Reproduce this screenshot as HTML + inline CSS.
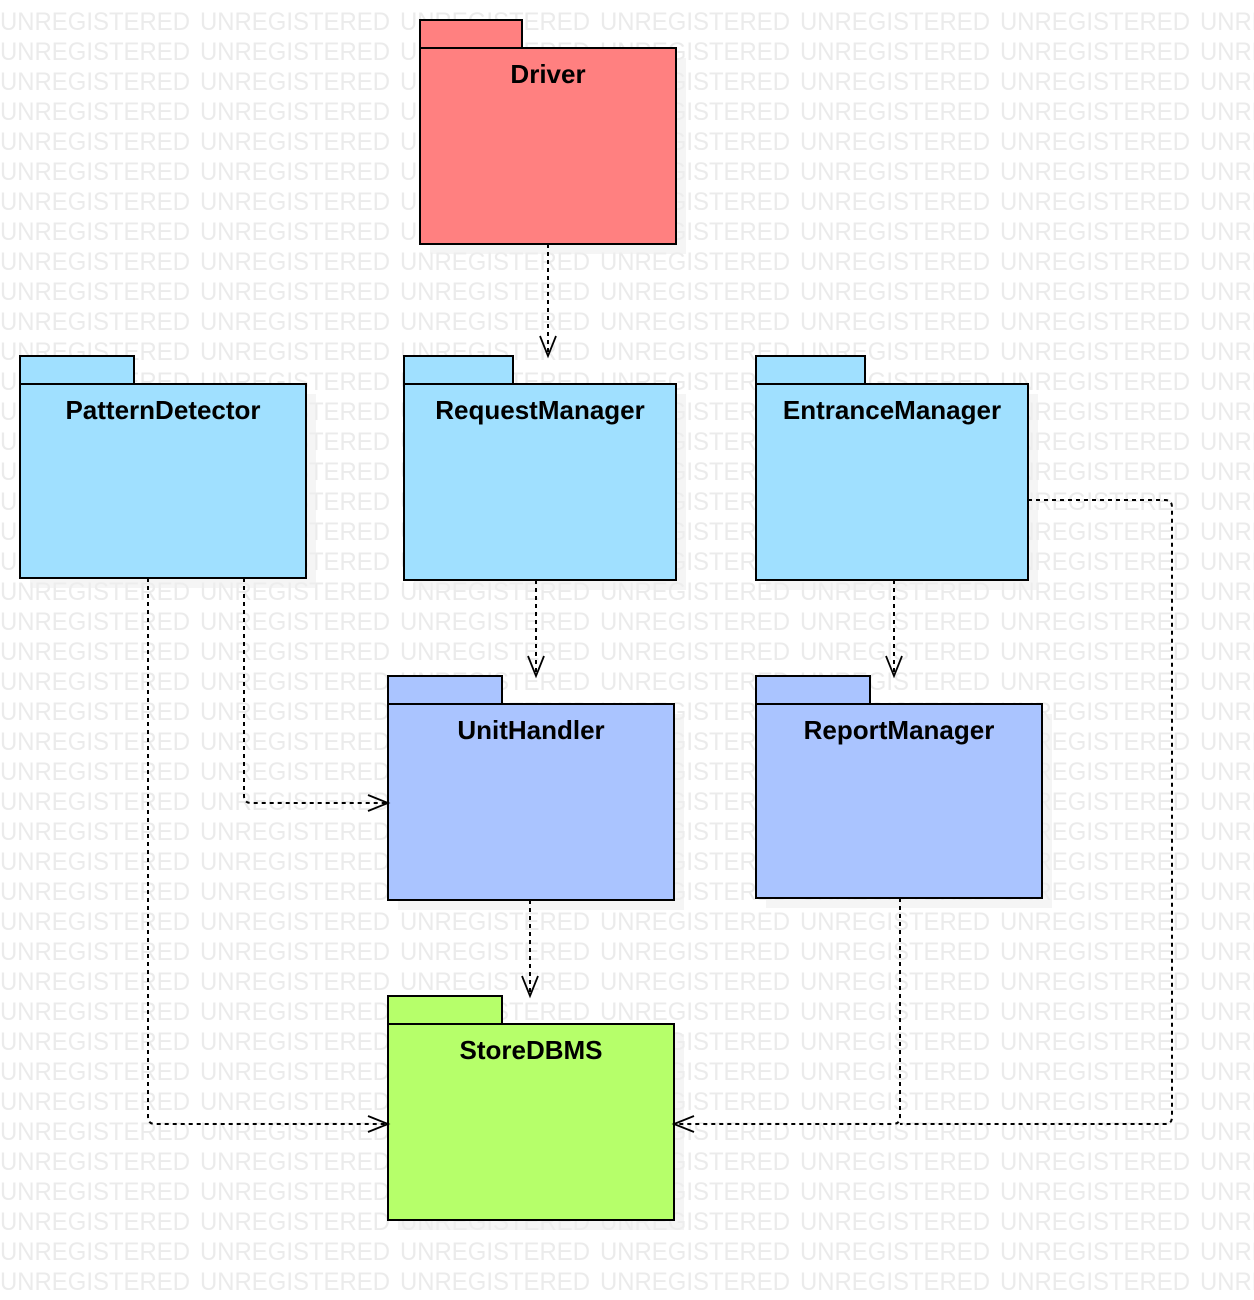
<!DOCTYPE html>
<html><head><meta charset="utf-8"><style>
html,body{margin:0;padding:0;background:#fff;}
svg{display:block;}
.wm{font-family:"Liberation Sans",sans-serif;font-size:25px;fill:#ebebeb;}
.lb{font-family:"Liberation Sans",sans-serif;font-size:26px;font-weight:bold;fill:#000;text-anchor:middle;}
.pk{stroke:#000;stroke-width:2;}
.sh{fill:#eeeeee;}
.ln{fill:none;stroke:#000;stroke-width:2;stroke-dasharray:4,4;}
.ah{fill:none;stroke:#000;stroke-width:1.8;}
</style></head><body>
<svg width="1254" height="1300" viewBox="0 0 1254 1300" xmlns="http://www.w3.org/2000/svg">
<defs>
<pattern id="wmp" x="0" y="0" width="200" height="30" patternUnits="userSpaceOnUse">
<text class="wm" x="0" y="30" textLength="190" lengthAdjust="spacingAndGlyphs">UNREGISTERED</text>
</pattern>
</defs>
<rect x="0" y="0" width="1254" height="1300" fill="url(#wmp)"/>
<rect class="sh" x="430" y="58" width="256" height="196" opacity="0.6"/>
<rect class="sh" x="30" y="394" width="286" height="194" opacity="0.6"/>
<rect class="sh" x="414" y="394" width="272" height="196" opacity="0.6"/>
<rect class="sh" x="766" y="394" width="272" height="196" opacity="0.6"/>
<rect class="sh" x="398" y="714" width="286" height="196" opacity="0.6"/>
<rect class="sh" x="766" y="714" width="286" height="194" opacity="0.6"/>
<rect class="sh" x="398" y="1034" width="286" height="196" opacity="0.6"/>
<g class="pk">
<rect x="420" y="20" width="102" height="28" fill="#ff8080"/>
<rect x="420" y="48" width="256" height="196" fill="#ff8080"/>
<rect x="20" y="356" width="114" height="28" fill="#a0e0ff"/>
<rect x="20" y="384" width="286" height="194" fill="#a0e0ff"/>
<rect x="404" y="356" width="109" height="28" fill="#a0e0ff"/>
<rect x="404" y="384" width="272" height="196" fill="#a0e0ff"/>
<rect x="756" y="356" width="109" height="28" fill="#a0e0ff"/>
<rect x="756" y="384" width="272" height="196" fill="#a0e0ff"/>
<rect x="388" y="676" width="114" height="28" fill="#aac4ff"/>
<rect x="388" y="704" width="286" height="196" fill="#aac4ff"/>
<rect x="756" y="676" width="114" height="28" fill="#aac4ff"/>
<rect x="756" y="704" width="286" height="194" fill="#aac4ff"/>
<rect x="388" y="996" width="114" height="28" fill="#b6ff6a"/>
<rect x="388" y="1024" width="286" height="196" fill="#b6ff6a"/>
</g>
<text class="lb" x="548" y="83">Driver</text>
<text class="lb" x="163" y="419">PatternDetector</text>
<text class="lb" x="540" y="419">RequestManager</text>
<text class="lb" x="892" y="419">EntranceManager</text>
<text class="lb" x="531" y="739">UnitHandler</text>
<text class="lb" x="899" y="739">ReportManager</text>
<text class="lb" x="531" y="1059">StoreDBMS</text>
<path class="ln" d="M548 244 V356"/>
<path class="ah" d="M540 336 L548 356 L556 336"/>
<path class="ln" d="M244 578 V796 Q244 803 251 803 H388"/>
<path class="ah" d="M368 795 L388 803 L368 811"/>
<path class="ln" d="M148 578 V1117 Q148 1124 155 1124 H388"/>
<path class="ah" d="M368 1116 L388 1124 L368 1132"/>
<path class="ln" d="M536 580 V676"/>
<path class="ah" d="M528 656 L536 676 L544 656"/>
<path class="ln" d="M894 580 V676"/>
<path class="ah" d="M886 656 L894 676 L902 656"/>
<path class="ln" d="M530 900 V996"/>
<path class="ah" d="M522 976 L530 996 L538 976"/>
<path class="ln" d="M900 898 V1117 Q900 1124 893 1124 H674"/>
<path class="ln" d="M1028 500 H1165 Q1172 500 1172 507 V1117 Q1172 1124 1165 1124 H900"/>
<path class="ah" d="M694 1116 L674 1124 L694 1132"/>
</svg>
</body></html>
